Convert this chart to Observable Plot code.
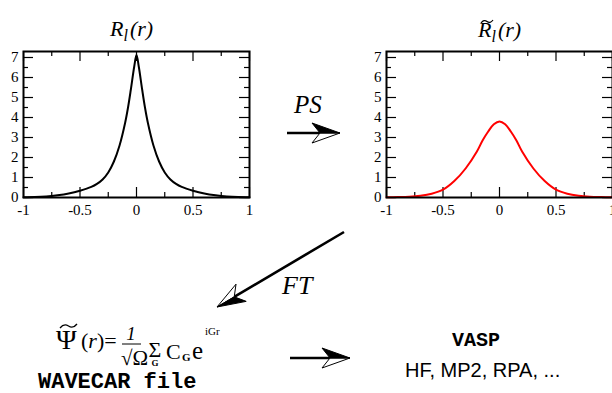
<!DOCTYPE html>
<html><head><meta charset="utf-8">
<script src="https://cdn.jsdelivr.net/npm/d3@7"></script>
<script src="https://cdn.jsdelivr.net/npm/@observablehq/plot@0.6"></script>
<style>
html,body{margin:0;padding:0;background:#fff;overflow:hidden;}
#wrap{position:relative;width:612px;height:393px;overflow:hidden;background:#fff;}
#wrap > svg{position:absolute;}
</style></head><body><div id="wrap"></div>
<script>
// ---- data ----
const rLeft   = [-1, -0.9, -0.8, -0.7, -0.6, -0.5, -0.4, -0.35, -0.3, -0.25, -0.2, -0.15, -0.1, -0.075, -0.05, -0.02, 0, 0.02, 0.05, 0.075, 0.1, 0.15, 0.2, 0.25, 0.3, 0.35, 0.4, 0.5, 0.6, 0.7, 0.8, 0.9, 1];
const valLeft = [0.01, 0.02, 0.05, 0.11, 0.2, 0.34, 0.53, 0.68, 0.9, 1.25, 1.8, 2.6, 3.75, 4.5, 5.4, 6.55, 7.12, 6.55, 5.4, 4.5, 3.75, 2.6, 1.8, 1.25, 0.9, 0.68, 0.53, 0.34, 0.2, 0.11, 0.05, 0.02, 0.01];
const rRight   = [-1, -0.9, -0.8, -0.7, -0.6, -0.5, -0.4, -0.3, -0.2, -0.15, -0.1, -0.05, 0, 0.05, 0.1, 0.15, 0.2, 0.3, 0.4, 0.5, 0.6, 0.7, 0.8, 0.9, 1];
const valRight = [0.01, 0.02, 0.04, 0.09, 0.19, 0.39, 0.82, 1.45, 2.3, 2.85, 3.3, 3.66, 3.8, 3.66, 3.3, 2.85, 2.3, 1.45, 0.82, 0.39, 0.19, 0.09, 0.04, 0.02, 0.01];
const xTicks = [-1, -0.5, 0, 0.5, 1];
const xTickLabels = ["-1", "-0.5", "0", "0.5", "1"];
const xMinor = [-0.75, -0.25, 0.25, 0.75];
const yTicks = [0, 1, 2, 3, 4, 5, 6, 7];
const yTickLabels = ["0", "1", "2", "3", "4", "5", "6", "7"];
const yMinor = [0.5, 1.5, 2.5, 3.5, 4.5, 5.5, 6.5];

const X0 = -1, X1 = 1, Y0 = 0, Y1 = 7.3;

function panel(r, v, color) {
  const W = 226, H = 146;
  const kx = (X1 - X0) / W, ky = (Y1 - Y0) / H;
  const MAJ = 10, MIN = 5, tw = 1.2;
  const tick = (d) => d;
  const xt = (ticks, len) => [
    Plot.ruleX(ticks, {x: tick, y1: Y0, y2: Y0 + len * ky, stroke: "#000", strokeWidth: tw}),
    Plot.ruleX(ticks, {x: tick, y1: Y1, y2: Y1 - len * ky, stroke: "#000", strokeWidth: tw})
  ];
  const yt = (ticks, len) => [
    Plot.ruleY(ticks, {y: tick, x1: X0, x2: X0 + len * kx, stroke: "#000", strokeWidth: tw}),
    Plot.ruleY(ticks, {y: tick, x1: X1, x2: X1 - len * kx, stroke: "#000", strokeWidth: tw})
  ];
  const data = r.map((x, i) => ({x, y: v[i]}));
  const font = "'Liberation Serif', 'DejaVu Serif', serif";
  return Plot.plot({
    width: 262, height: 222,
    marginLeft: 23, marginRight: 13, marginTop: 51, marginBottom: 25,
    x: {domain: [X0, X1], label: null}, y: {domain: [Y0, Y1], label: null},
    style: {fontFamily: font, fontSize: "15px", background: "transparent", overflow: "visible", color: "#000"},
    marks: [
      ...xt(xTicks, MAJ), ...xt(xMinor, MIN),
      ...yt(yTicks, MAJ), ...yt(yMinor, MIN),
      Plot.line(data, {x: "x", y: "y", stroke: color, strokeWidth: 2, curve: "catmull-rom"}),
      Plot.frame({stroke: "#000", strokeWidth: 2}),
      Plot.axisX(xTicks, {tickSize: 0, tickPadding: 7, label: null, fontSize: 15, fontFamily: font, tickFormat: d => xTickLabels[xTicks.indexOf(d)], fill: "#000"}),
      Plot.axisY(yTicks, {tickSize: 0, tickPadding: 5, label: null, fontSize: 15, fontFamily: font, tickFormat: d => yTickLabels[yTicks.indexOf(d)], fill: "#000"})
    ]
  });
}

const wrap = document.getElementById("wrap");
const p1 = panel(rLeft, valLeft, "#000");
p1.style.left = "0px"; p1.style.top = "0px";
wrap.appendChild(p1);
const p2 = panel(rRight, valRight, "#f00");
p2.style.left = "363px"; p2.style.top = "0px";
wrap.appendChild(p2);

// ---- annotation overlay ----
const svg = d3.select(wrap).append("svg")
  .attr("width", 612).attr("height", 393)
  .style("left", "0px").style("top", "0px");

const serif = "'Liberation Serif', 'DejaVu Serif', serif";

function title(x, baseline, tilde) {
  const t = svg.append("text").attr("x", x).attr("y", baseline)
    .attr("font-family", serif).attr("font-style", "italic").attr("font-size", 22).attr("fill", "#000");
  t.append("tspan").text("R");
  t.append("tspan").attr("dy", 5).attr("font-size", 16).text("l");
  t.append("tspan").attr("dy", -5).attr("dx", 2).text("(r)");
  if (tilde) {
    svg.append("path")
      .attr("d", `M${x + 3},${baseline - 14} q3,-4 6,-1.5 t6,-1.5`)
      .attr("fill", "none").attr("stroke", "#000").attr("stroke-width", 1.2);
  }
}
title(110, 36, false);
title(478, 37, true);

function arrow(x1, y1, x2, y2) {
  const dx = x1 - x2, dy = y1 - y2, len = Math.hypot(dx, dy);
  const ux = dx / len, uy = dy / len;      // from tip back to tail
  const px = -uy, py = ux;                  // filled side
  const L = 28, Wd = 10, N = 20;
  const bx = x2 + ux * L, by = y2 + uy * L;
  const notch = [x2 + ux * N, y2 + uy * N];
  const fillB = [bx + px * Wd, by + py * Wd];
  const openB = [bx - px * Wd, by - py * Wd];
  svg.append("line").attr("x1", x1).attr("y1", y1).attr("x2", notch[0]).attr("y2", notch[1])
    .attr("stroke", "#000").attr("stroke-width", 2.6);
  svg.append("path").attr("d", `M${x2},${y2}L${openB}L${notch}Z`)
    .attr("fill", "#fff").attr("stroke", "#000").attr("stroke-width", 1);
  svg.append("path").attr("d", `M${x2},${y2}L${fillB}L${notch}Z`)
    .attr("fill", "#000").attr("stroke", "#000").attr("stroke-width", 1);
}
arrow(287, 133, 340, 133);
arrow(344, 232, 217, 307);
arrow(290, 358, 350, 358);

function txt(x, y, s, size, opts = {}) {
  const t = svg.append("text").attr("x", x).attr("y", y).text(s)
    .attr("font-family", opts.family || serif).attr("font-size", size).attr("fill", "#000");
  if (opts.italic) t.attr("font-style", "italic");
  if (opts.bold) t.attr("font-weight", "bold");
  if (opts.anchor) t.attr("text-anchor", opts.anchor);
  return t;
}
txt(294, 113, "PS", 25, {italic: true});
txt(282, 294, "FT", 26, {italic: true});

// formula
txt(56, 349, "Ψ", 28);
svg.append("path").attr("d", "M60,328 q4,-5 8.5,-2 t8.5,-2").attr("fill", "none").attr("stroke", "#000").attr("stroke-width", 1.3);
const pr = txt(81, 348, "", 22);
pr.append("tspan").text("(");
pr.append("tspan").attr("font-style", "italic").text("r");
pr.append("tspan").text(")=");
txt(131, 340, "1", 19, {italic: true, anchor: "middle"});
svg.append("line").attr("x1", 122).attr("x2", 141).attr("y1", 344).attr("y2", 344).attr("stroke", "#000").attr("stroke-width", 1);
txt(121, 365, "√Ω", 21);
txt(155, 357, "Σ", 22, {anchor: "middle"});
txt(155, 366, "G", 9, {bold: true, anchor: "middle"});
txt(166, 359, "C", 22);
txt(182, 361, "G", 11, {bold: true});
txt(192, 359, "e", 25);
txt(205, 335, "iGr", 11);

const mono = "'Liberation Mono', 'DejaVu Sans Mono', monospace";
txt(38, 388, "WAVECAR file", 22, {family: mono, bold: true});
txt(476, 346, "VASP", 20, {family: mono, bold: true, anchor: "middle"});
txt(405, 377, "HF, MP2, RPA, ...", 20, {family: "'Liberation Sans', Arial, sans-serif"});
</script></body></html>
